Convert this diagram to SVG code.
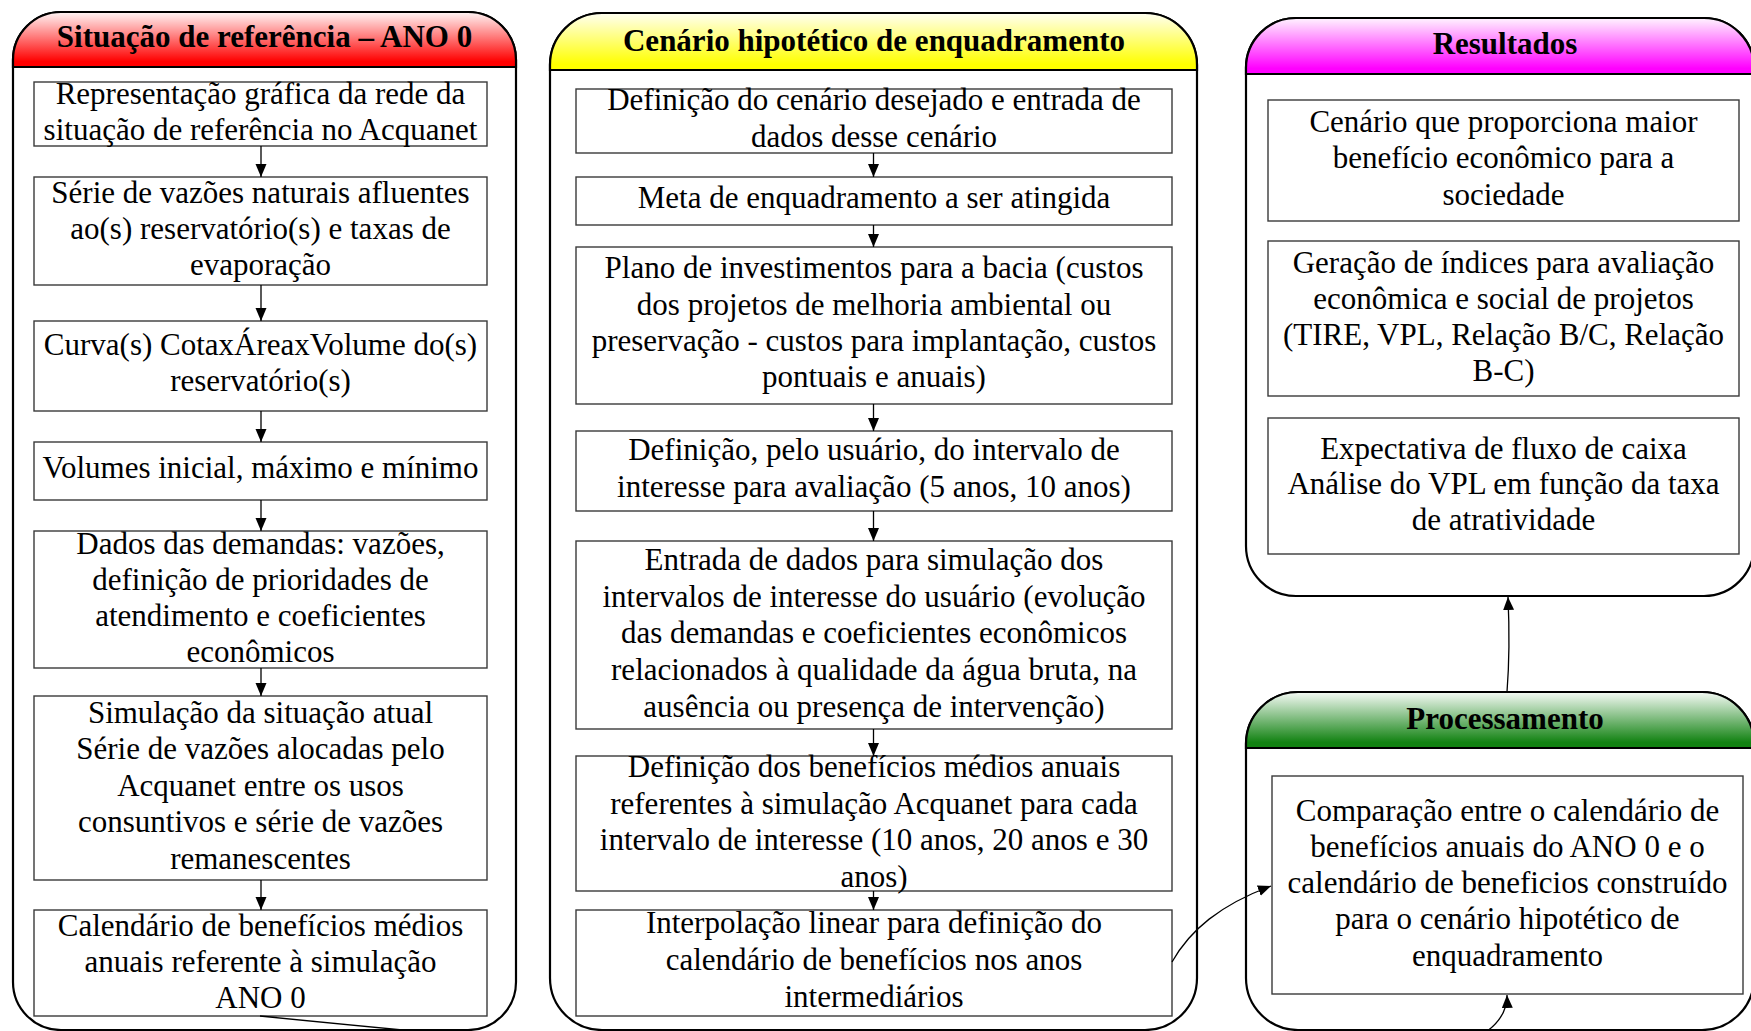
<svg xmlns="http://www.w3.org/2000/svg" width="1751" height="1031" viewBox="0 0 1751 1031">
<style>
.panel{fill:#ffffff;stroke:#000000;stroke-width:2.2}
.sep{stroke:#000000;stroke-width:2.2}
.box{fill:#ffffff;stroke:#3a3a3a;stroke-width:1.4}
.t{font-family:"Liberation Serif","Times New Roman",serif;font-size:31px;fill:#000000;text-anchor:middle}
.h{font-family:"Liberation Serif","Times New Roman",serif;font-size:31px;font-weight:bold;fill:#000000;text-anchor:middle}
.c{fill:none;stroke:#000000;stroke-width:1.3}
</style>
<defs>
<linearGradient id="gRed" x1="0" y1="0" x2="0" y2="1"><stop offset="0" stop-color="#fff6f6"/><stop offset="0.9" stop-color="#ff0000"/><stop offset="1" stop-color="#ff0000"/></linearGradient>
<linearGradient id="gYel" x1="0" y1="0" x2="0" y2="1"><stop offset="0" stop-color="#fffff2"/><stop offset="0.9" stop-color="#ffff00"/><stop offset="1" stop-color="#ffff00"/></linearGradient>
<linearGradient id="gMag" x1="0" y1="0" x2="0" y2="1"><stop offset="0" stop-color="#fff4ff"/><stop offset="0.9" stop-color="#ff00ff"/><stop offset="1" stop-color="#ff00ff"/></linearGradient>
<linearGradient id="gGrn" x1="0" y1="0" x2="0" y2="1"><stop offset="0" stop-color="#f6fbf6"/><stop offset="0.9" stop-color="#128212"/><stop offset="1" stop-color="#128212"/></linearGradient>
<marker id="arr" markerUnits="userSpaceOnUse" markerWidth="14" markerHeight="12" refX="13" refY="5.5" orient="auto"><path d="M0,0 L13,5.5 L0,11 Z" fill="#000000"/></marker>
</defs>

<g id="panel-referencia">
<rect class="panel" x="13" y="12" width="503" height="1018" rx="48" ry="48"/>
<path d="M13,67 V60 A48,48 0 0 1 61,12 H468 A48,48 0 0 1 516,60 V67 Z" fill="url(#gRed)" stroke="#000" stroke-width="2.2"/>
<line class="sep" x1="13" y1="67" x2="516" y2="67"/>
<text class="h" x="264.5" y="47">Situação de referência – ANO 0</text>
</g>

<g id="panel-cenario">
<rect class="panel" x="550" y="13" width="647" height="1017" rx="52" ry="52"/>
<path d="M550,70 V65 A52,52 0 0 1 602,13 H1145 A52,52 0 0 1 1197,65 V70 Z" fill="url(#gYel)" stroke="#000" stroke-width="2.2"/>
<line class="sep" x1="550" y1="70" x2="1197" y2="70"/>
<text class="h" x="874" y="51">Cenário hipotético de enquadramento</text>
</g>

<g id="panel-resultados">
<rect class="panel" x="1246" y="18" width="508" height="578" rx="50" ry="50"/>
<path d="M1246,74 V68 A50,50 0 0 1 1296,18 H1704 A50,50 0 0 1 1754,68 V74 Z" fill="url(#gMag)" stroke="#000" stroke-width="2.2"/>
<line class="sep" x1="1246" y1="74" x2="1754" y2="74"/>
<text class="h" x="1505" y="54">Resultados</text>
</g>

<g id="panel-processamento">
<rect class="panel" x="1246" y="692" width="508" height="338" rx="52" ry="52"/>
<path d="M1246,748 V744 A52,52 0 0 1 1298,692 H1702 A52,52 0 0 1 1754,744 V748 Z" fill="url(#gGrn)" stroke="#000" stroke-width="2.2"/>
<line class="sep" x1="1246" y1="748" x2="1754" y2="748"/>
<text class="h" x="1505" y="729">Processamento</text>
</g>

<g id="L1"><rect class="box" x="34" y="82" width="453" height="64"/>
<text class="t" x="260.5" y="104">Representação gráfica da rede da</text>
<text class="t" x="260.5" y="140">situação de referência no Acquanet</text></g>
<g id="L2"><rect class="box" x="34" y="177" width="453" height="108"/>
<text class="t" x="260.5" y="203">Série de vazões naturais afluentes</text>
<text class="t" x="260.5" y="239">ao(s) reservatório(s) e taxas de</text>
<text class="t" x="260.5" y="275">evaporação</text></g>
<g id="L3"><rect class="box" x="34" y="321" width="453" height="90"/>
<text class="t" x="260.5" y="355">Curva(s) CotaxÁreaxVolume do(s)</text>
<text class="t" x="260.5" y="391">reservatório(s)</text></g>
<g id="L4"><rect class="box" x="34" y="442" width="453" height="58"/>
<text class="t" x="260.5" y="478">Volumes inicial, máximo e mínimo</text></g>
<g id="L5"><rect class="box" x="34" y="531" width="453" height="137"/>
<text class="t" x="260.5" y="554">Dados das demandas: vazões,</text>
<text class="t" x="260.5" y="590">definição de prioridades de</text>
<text class="t" x="260.5" y="626">atendimento e coeficientes</text>
<text class="t" x="260.5" y="662">econômicos</text></g>
<g id="L6"><rect class="box" x="34" y="696" width="453" height="184"/>
<text class="t" x="260.5" y="723">Simulação da situação atual</text>
<text class="t" x="260.5" y="759">Série de vazões alocadas pelo</text>
<text class="t" x="260.5" y="796">Acquanet entre os usos</text>
<text class="t" x="260.5" y="832">consuntivos e série de vazões</text>
<text class="t" x="260.5" y="869">remanescentes</text></g>
<g id="L7"><rect class="box" x="34" y="910" width="453" height="106"/>
<text class="t" x="260.5" y="936">Calendário de benefícios médios</text>
<text class="t" x="260.5" y="972">anuais referente à simulação</text>
<text class="t" x="260.5" y="1008">ANO 0</text></g>

<g id="C1"><rect class="box" x="576" y="89" width="596" height="64"/>
<text class="t" x="874" y="110">Definição do cenário desejado e entrada de</text>
<text class="t" x="874" y="147">dados desse cenário</text></g>
<g id="C2"><rect class="box" x="576" y="177" width="596" height="48"/>
<text class="t" x="874" y="208">Meta de enquadramento a ser atingida</text></g>
<g id="C3"><rect class="box" x="576" y="247" width="596" height="157"/>
<text class="t" x="874" y="278">Plano de investimentos para a bacia (custos</text>
<text class="t" x="874" y="315">dos projetos de melhoria ambiental ou</text>
<text class="t" x="874" y="351">preservação - custos para implantação, custos</text>
<text class="t" x="874" y="387">pontuais e anuais)</text></g>
<g id="C4"><rect class="box" x="576" y="431" width="596" height="80"/>
<text class="t" x="874" y="460">Definição, pelo usuário, do intervalo de</text>
<text class="t" x="874" y="497">interesse para avaliação (5 anos, 10 anos)</text></g>
<g id="C5"><rect class="box" x="576" y="541" width="596" height="188"/>
<text class="t" x="874" y="570">Entrada de dados para simulação dos</text>
<text class="t" x="874" y="607">intervalos de interesse do usuário (evolução</text>
<text class="t" x="874" y="643">das demandas e coeficientes econômicos</text>
<text class="t" x="874" y="680">relacionados à qualidade da água bruta, na</text>
<text class="t" x="874" y="717">ausência ou presença de intervenção)</text></g>
<g id="C6"><rect class="box" x="576" y="756" width="596" height="135"/>
<text class="t" x="874" y="777">Definição dos benefícios médios anuais</text>
<text class="t" x="874" y="814">referentes à simulação Acquanet para cada</text>
<text class="t" x="874" y="850">intervalo de interesse (10 anos, 20 anos e 30</text>
<text class="t" x="874" y="887">anos)</text></g>
<g id="C7"><rect class="box" x="576" y="910" width="596" height="106"/>
<text class="t" x="874" y="933">Interpolação linear para definição do</text>
<text class="t" x="874" y="970">calendário de benefícios nos anos</text>
<text class="t" x="874" y="1007">intermediários</text></g>

<g id="R1"><rect class="box" x="1268" y="100" width="471" height="121"/>
<text class="t" x="1503.5" y="132">Cenário que proporciona maior</text>
<text class="t" x="1503.5" y="168">benefício econômico para a</text>
<text class="t" x="1503.5" y="205">sociedade</text></g>
<g id="R2"><rect class="box" x="1268" y="241" width="471" height="155"/>
<text class="t" x="1503.5" y="273">Geração de índices para avaliação</text>
<text class="t" x="1503.5" y="309">econômica e social de projetos</text>
<text class="t" x="1503.5" y="345">(TIRE, VPL, Relação B/C, Relação</text>
<text class="t" x="1503.5" y="381">B-C)</text></g>
<g id="R3"><rect class="box" x="1268" y="418" width="471" height="136"/>
<text class="t" x="1503.5" y="459">Expectativa de fluxo de caixa</text>
<text class="t" x="1503.5" y="494">Análise do VPL em função da taxa</text>
<text class="t" x="1503.5" y="530">de atratividade</text></g>

<g id="P1"><rect class="box" x="1272" y="776" width="471" height="218"/>
<text class="t" x="1507.5" y="821">Comparação entre o calendário de</text>
<text class="t" x="1507.5" y="857">benefícios anuais do ANO 0 e o</text>
<text class="t" x="1507.5" y="893">calendário de beneficios construído</text>
<text class="t" x="1507.5" y="929">para o cenário hipotético de</text>
<text class="t" x="1507.5" y="966">enquadramento</text></g>

<g id="connectors">
<line class="c" x1="261" y1="146" x2="261" y2="177" marker-end="url(#arr)"/>
<line class="c" x1="261" y1="285" x2="261" y2="321" marker-end="url(#arr)"/>
<line class="c" x1="261" y1="411" x2="261" y2="442" marker-end="url(#arr)"/>
<line class="c" x1="261" y1="500" x2="261" y2="531" marker-end="url(#arr)"/>
<line class="c" x1="261" y1="668" x2="261" y2="696" marker-end="url(#arr)"/>
<line class="c" x1="261" y1="880" x2="261" y2="910" marker-end="url(#arr)"/>
<line class="c" x1="873.5" y1="153" x2="873.5" y2="177" marker-end="url(#arr)"/>
<line class="c" x1="873.5" y1="225" x2="873.5" y2="247" marker-end="url(#arr)"/>
<line class="c" x1="873.5" y1="404" x2="873.5" y2="431" marker-end="url(#arr)"/>
<line class="c" x1="873.5" y1="511" x2="873.5" y2="541" marker-end="url(#arr)"/>
<line class="c" x1="873.5" y1="729" x2="873.5" y2="756" marker-end="url(#arr)"/>
<line class="c" x1="873.5" y1="891" x2="873.5" y2="910" marker-end="url(#arr)"/>
<path class="c" d="M1507,692 C1509.5,660 1509.5,630 1508,597" marker-end="url(#arr)"/>
<path class="c" d="M1172,962 C1190,930 1220,905 1271,886" marker-end="url(#arr)"/>
<path class="c" d="M260,1016 C900,1080 1510,1125 1507,995" marker-end="url(#arr)"/>
</g>
</svg>
